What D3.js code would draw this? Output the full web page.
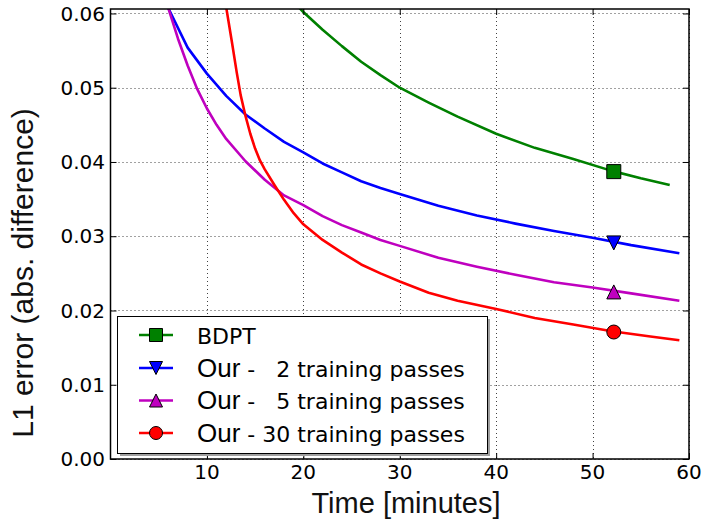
<!DOCTYPE html>
<html><head><meta charset="utf-8">
<script src="https://cdn.jsdelivr.net/npm/d3@7"></script>
<style>body{margin:0;background:#fff} svg{display:block}</style>
</head><body><svg id="c" width="703" height="521"></svg>
<script>
// ---- data ----
const seriesNames = ["BDPT", "Our -   2 training passes", "Our -   5 training passes", "Our - 30 training passes"];
const seriesColors = ["#008000", "#0000ff", "#bf00bf", "#ff0000"];
const seriesMarkers = ["square", "triangleDown", "triangleUp", "circle"];

const bdptTime = [19.4, 20, 22, 24, 26, 28, 30, 33, 36, 40, 44, 48, 52, 55, 58];
const bdptErr  = [0.0610, 0.0602, 0.0578, 0.0556, 0.0535, 0.0517, 0.0500, 0.0480, 0.0461, 0.0438, 0.0419, 0.0404, 0.0388, 0.0378, 0.0369];

const pass2Time = [6, 8, 10, 12, 14, 16, 18, 20, 22, 24, 26, 28, 30, 34, 38, 42, 46, 50, 54, 59];
const pass2Err  = [0.0607, 0.0554, 0.0519, 0.0489, 0.0464, 0.0445, 0.0427, 0.0413, 0.0398, 0.0386, 0.0374, 0.0365, 0.0357, 0.0341, 0.0328, 0.0317, 0.0307, 0.0298, 0.0288, 0.0277];

const pass5Time = [6, 7, 8, 9, 10, 11, 12, 14, 16, 18, 20, 22, 24, 26, 28, 30, 34, 38, 42, 46, 50, 54, 59];
const pass5Err  = [0.0607, 0.0566, 0.0530, 0.0498, 0.0472, 0.0450, 0.0431, 0.0401, 0.0376, 0.0355, 0.0342, 0.0327, 0.0315, 0.0305, 0.0295, 0.0287, 0.0271, 0.0259, 0.0248, 0.0238, 0.0231, 0.0223, 0.0213];

const pass30Time = [11.8, 12.6, 13.1, 13.5, 14, 14.5, 15, 15.5, 16, 17, 18, 19, 20, 22, 24, 26, 28, 30, 33, 36, 40, 44, 48, 52, 56, 59];
const pass30Err  = [0.0624, 0.0561, 0.0520, 0.0490, 0.0462, 0.0438, 0.0418, 0.0402, 0.0390, 0.0369, 0.0349, 0.0331, 0.0316, 0.0295, 0.0278, 0.0262, 0.0250, 0.0239, 0.0224, 0.0213, 0.0202, 0.0190, 0.0181, 0.0172, 0.0165, 0.0160];

const markerTime = [52.2, 52.2, 52.2, 52.2];
const markerErr  = [0.0387, 0.0291, 0.0225, 0.0171];

const xTicks = [10, 20, 30, 40, 50, 60];
const yTicks = [0.00, 0.01, 0.02, 0.03, 0.04, 0.05, 0.06];
const xDomain = [0, 60];
const yDomain = [0, 0.0606];
const xLabel = "Time [minutes]";
const yLabel = "L1 error (abs. difference)";

// ---- layout ----
const L = 110.5, R = 689, T = 9, B = 459;
const svg = d3.select("#c");
const x = d3.scaleLinear().domain(xDomain).range([L, R]);
const y = d3.scaleLinear().domain(yDomain).range([B, T]);

const series = [
  {t: bdptTime, v: bdptErr},
  {t: pass2Time, v: pass2Err},
  {t: pass5Time, v: pass5Err},
  {t: pass30Time, v: pass30Err}
].map((s, i) => ({
  name: seriesNames[i], color: seriesColors[i], marker: seriesMarkers[i],
  pts: s.t.map((tt, j) => [tt, s.v[j]]),
  mk: [markerTime[i], markerErr[i]]
}));

svg.append("defs").append("clipPath").attr("id", "plotclip")
  .append("rect").attr("x", L).attr("y", T).attr("width", R - L).attr("height", B - T);

// grid
const grid = svg.append("g").attr("stroke", "#222").attr("stroke-width", 1).attr("stroke-dasharray", "1,3").attr("opacity", 0.85);
grid.selectAll("line.gx").data(xTicks).join("line")
  .attr("x1", d => Math.round(x(d)) + 0.5).attr("x2", d => Math.round(x(d)) + 0.5)
  .attr("y1", T).attr("y2", B);
grid.selectAll("line.gy").data(yTicks).join("line")
  .attr("y1", d => Math.round(y(d)) + 0.5).attr("y2", d => Math.round(y(d)) + 0.5)
  .attr("x1", L).attr("x2", R);

// marker shapes
function markerPath(type, s) {
  const h = s / 2;
  if (type === "square") return `M${-h},${-h}H${h}V${h}H${-h}Z`;
  if (type === "triangleDown") return `M${-h},${-h}L${h},${-h}L0,${h}Z`;
  if (type === "triangleUp") return `M${-h},${h}L${h},${h}L0,${-h}Z`;
  return `M${h},0A${h},${h},0,1,1,${-h},0A${h},${h},0,1,1,${h},0Z`;
}

// lines
const line = d3.line().x(d => x(d[0])).y(d => y(d[1]));
const plot = svg.append("g").attr("clip-path", "url(#plotclip)");
series.forEach(s => {
  plot.append("path").datum(s.pts).attr("d", line)
    .attr("fill", "none").attr("stroke", s.color).attr("stroke-width", 2.6)
    .attr("stroke-linejoin", "round");
  plot.append("path").attr("d", markerPath(s.marker, 14))
    .attr("transform", `translate(${x(s.mk[0])},${y(s.mk[1])})`)
    .attr("fill", s.color).attr("stroke", "#000").attr("stroke-width", 1);
});

// axes (inward ticks on all sides)
const tickLen = 6;
const ax = svg.append("g");
const xAxB = d3.axisBottom(x).tickValues(xTicks).tickSize(-tickLen).tickFormat("");
const xAxT = d3.axisTop(x).tickValues(xTicks).tickSize(-tickLen).tickFormat("");
const yAxL = d3.axisLeft(y).tickValues(yTicks).tickSize(-tickLen).tickFormat("");
const yAxR = d3.axisRight(y).tickValues(yTicks).tickSize(-tickLen).tickFormat("");
ax.append("g").attr("transform", `translate(0,${B})`).call(xAxB);
ax.append("g").attr("transform", `translate(0,${T})`).call(xAxT);
ax.append("g").attr("transform", `translate(${L},0)`).call(yAxL);
ax.append("g").attr("transform", `translate(${R},0)`).call(yAxR);
ax.selectAll(".domain").remove();
ax.selectAll(".tick line").attr("stroke", "#000").attr("stroke-width", 1);

svg.append("rect").attr("x", L).attr("y", T).attr("width", R - L).attr("height", B - T)
  .attr("fill", "none").attr("stroke", "#000").attr("stroke-width", 1.5);

// tick labels
svg.append("g").selectAll("text").data(xTicks).join("text")
  .attr("x", d => x(d)).attr("y", 479).attr("text-anchor", "middle")
  .attr("font-family", "DejaVu Sans").attr("font-size", 20).attr("fill", "#000")
  .text(d => d3.format("d")(d));
svg.append("g").selectAll("text").data(yTicks).join("text")
  .attr("x", 105).attr("y", d => y(d)).attr("dy", "0.36em").attr("text-anchor", "end")
  .attr("font-family", "DejaVu Sans").attr("font-size", 20).attr("fill", "#000")
  .text(d => d3.format(".2f")(d));

// axis labels
svg.append("text").attr("x", 406).attr("y", 513).attr("text-anchor", "middle")
  .attr("font-family", "Liberation Sans").attr("font-size", 29).attr("fill", "#111")
  .text(xLabel);
svg.append("text").attr("transform", "translate(33,273) rotate(-90)").attr("text-anchor", "middle")
  .attr("font-family", "Liberation Sans").attr("font-size", 30).attr("fill", "#111")
  .text(yLabel);

// legend
const lg = svg.append("g");
const lgX = 117, lgY = 316, lgW = 370, lgH = 137;
lg.append("rect").attr("x", lgX + 3).attr("y", lgY + 3).attr("width", lgW).attr("height", lgH).attr("fill", "#a0a0a0");
lg.append("rect").attr("x", lgX + 0.5).attr("y", lgY + 0.5).attr("width", lgW).attr("height", lgH)
  .attr("fill", "#fff").attr("stroke", "#000").attr("stroke-width", 1);
const rowY = [335, 368, 400.5, 433];
series.forEach((s, i) => {
  const cy = rowY[i];
  lg.append("line").attr("x1", 139).attr("x2", 173).attr("y1", cy).attr("y2", cy)
    .attr("stroke", s.color).attr("stroke-width", 2.6);
  lg.append("path").attr("d", markerPath(s.marker, 13)).attr("transform", `translate(156,${cy})`)
    .attr("fill", s.color).attr("stroke", "#000").attr("stroke-width", 1);
  const txt = lg.append("text").attr("x", 197).attr("y", cy + 8.5)
    .attr("fill", "#000").style("white-space", "pre").attr("xml:space", "preserve");
  if (s.name.startsWith("Our")) {
    txt.append("tspan").attr("font-family", "Liberation Sans").attr("font-size", 26).text("Our");
    txt.append("tspan").attr("font-family", "DejaVu Sans").attr("font-size", 22).text(s.name.slice(3));
  } else {
    txt.append("tspan").attr("font-family", "DejaVu Sans").attr("font-size", 22).text(s.name);
  }
});
</script>
</body></html>
